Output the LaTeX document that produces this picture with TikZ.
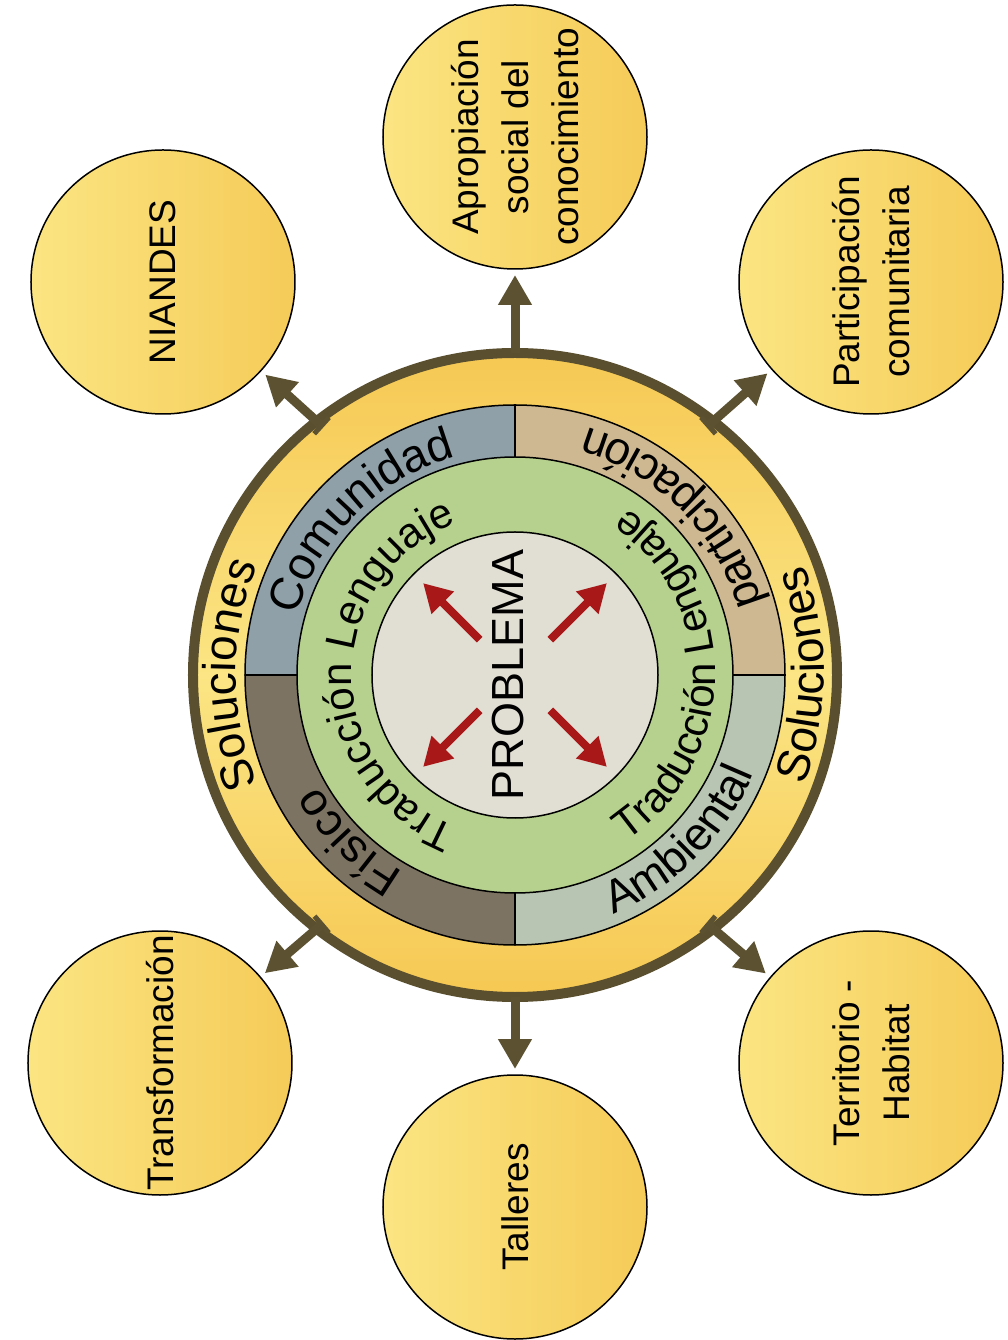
\documentclass[tikz,border=0pt]{standalone}
\usepackage{xcolor}
\usepackage{fontspec}
\setmainfont{Liberation Sans}
\usetikzlibrary{arrows.meta,decorations.text}

\definecolor{ringbrown}{HTML}{5A4F2E}
\definecolor{arrowbrown}{HTML}{5C5232}
\definecolor{solorange}{HTML}{F6C853}
\definecolor{sollight}{HTML}{FBE584}
\definecolor{bubblelight}{HTML}{FBE582}
\definecolor{bubbledark}{HTML}{F5CB58}
\definecolor{quadblue}{HTML}{8FA0A8}
\definecolor{quadtan}{HTML}{CDB892}
\definecolor{quadsage}{HTML}{B9C5B3}
\definecolor{quadtaupe}{HTML}{7D7363}
\definecolor{ringgreen}{HTML}{B6D18D}
\definecolor{probgray}{HTML}{E1DED3}
\definecolor{probred}{HTML}{A81818}

\newcommand{\bigfont}{\fontsize{46}{46}\selectfont}
\newcommand{\midfont}{\fontsize{42}{42}\selectfont}

\begin{document}
\begin{tikzpicture}[x=1pt, y=1pt,
  bubble/.style={circle, draw=black, line width=1.5pt, minimum size=264pt,
    inner sep=0pt, outer sep=0pt, left color=bubblelight, right color=bubbledark,
    rotate=90, align=center, font=\fontsize{37}{50}\selectfont},
  outarrow/.style={draw=arrowbrown, line width=9pt,
    -{Triangle[width=32pt,length=30pt]}, shorten >=6pt},
  sidearrow/.style={outarrow, {Bar[width=22pt,line width=5pt]}-{Triangle[width=32pt,length=30pt]},
    shorten <=-9pt},
  redarrow/.style={draw=probred, line width=8pt, -{Triangle[width=30pt,length=28pt]}},
  ringtext/.style 2 args={decorate, decoration={text along path, text align=center,
    text={|#1|#2}}}
]

\useasboundingbox[fill=white] (-515,-665) rectangle (493,675);

%
% Soluciones ring
%
\path (0,0) node[circle, minimum size=644pt, inner sep=0pt, outer sep=0pt,
  draw=ringbrown, line width=10pt,
  top color=solorange, bottom color=solorange, middle color=sollight] (hub) {};

% Quadrants
\fill[quadblue] (0,0) -- (180:270) arc (180:90:270) -- cycle;
\fill[quadtan] (0,0) -- (90:270) arc (90:0:270) -- cycle;
\fill[quadsage] (0,0) -- (0:270) arc (0:-90:270) -- cycle;
\fill[quadtaupe] (0,0) -- (-90:270) arc (-90:-180:270) -- cycle;
\draw[line width=1.5pt] (0,0) circle [radius=270];
\draw[line width=1.5pt] (0:218) -- (0:270) (90:218) -- (90:270)
  (180:218) -- (180:270) (270:218) -- (270:270);

% Traduccion ring and problem core
\filldraw[fill=ringgreen, draw=black, line width=1.5pt] (0,0) circle [radius=218];
\filldraw[fill=probgray, draw=black, line width=1.5pt] (0,0) circle [radius=143];

%
% Ring labels
%
\path[ringtext={\bigfont}{Soluciones}] (240:279) arc (240:120:279);
\path[ringtext={\bigfont}{Soluciones}] (-60:309) arc (-60:60:309);

\path[ringtext={\bigfont}{Comunidad}] (180:226) arc (180:90:226);
\path[ringtext={\bigfont}{participaci{ó}n}] (0:258) arc (0:90:258);
\path[ringtext={\bigfont}{Ambiental}] (-90:258) arc (-90:0:258);
\path[ringtext={\bigfont}{F{í}sico}] (270:226) arc (270:180:226);

\path[ringtext={\midfont}{Traducci{ó}n Lenguaje}] (270:163) arc (270:90:163);
\path[ringtext={\midfont}{Traducci{ó}n Lenguaje}] (-90:200) arc (-90:90:200);

%
% Problema
%
\path (-7,0) node[rotate=90, font=\fontsize{45}{45}\selectfont] (prob) {PROBLEMA};

\coordinate (ul0) at (135:50); \coordinate (ul1) at (135:130);
\coordinate (ur0) at (45:50);  \coordinate (ur1) at (45:130);
\coordinate (ll0) at (225:50); \coordinate (ll1) at (225:130);
\coordinate (lr0) at (315:50); \coordinate (lr1) at (315:130);

\draw[redarrow] (ul0) -- (ul1);
\draw[redarrow] (ur0) -- (ur1);
\draw[redarrow] (ll0) -- (ll1);
\draw[redarrow] (lr0) -- (lr1);

%
% Outer bubbles
%
\path (0,538) node[bubble] (apro) {Apropiación\\social del\\conocimiento};
\path (-352,393) node[bubble] (nian) {NIANDES};
\path (356,393) node[bubble] (part) {Participación\\comunitaria};
\path (-355,-388) node[bubble] (tran) {Transformación};
\path (0,-532) node[bubble] (tall) {Talleres};
\path (356,-388) node[bubble] (terr) {Territorio -\\Habitat};

% Arrows out of the ring
\draw[outarrow] (hub.90) -- (apro);
\draw[outarrow] (hub.270) -- (tall);
\draw[sidearrow] (hub.128) -- (nian);
\draw[sidearrow] (hub.52) -- (part);
\draw[sidearrow] (hub.232) -- (tran);
\draw[sidearrow] (hub.308) -- (terr);

\end{tikzpicture}
\end{document}
